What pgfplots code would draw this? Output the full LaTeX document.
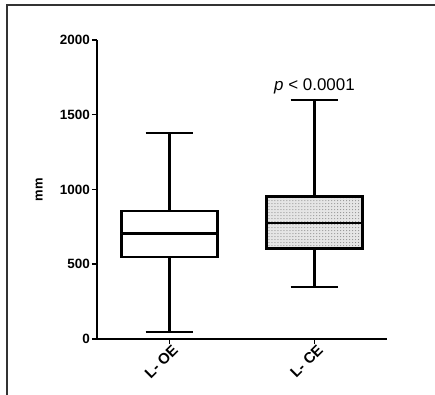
\documentclass[border=0pt]{standalone}
\usepackage{pgfplots}
\pgfplotsset{compat=1.18}
\usepgfplotslibrary{statistics}
\usetikzlibrary{patterns}
\usepackage{fontspec}
\setmainfont{Liberation Sans}
\begin{document}
\begin{tikzpicture}
\useasboundingbox (0bp,0bp) rectangle (435bp,395bp);
\fill[white] (0bp,0bp) rectangle (435bp,395bp);
\draw[line width=1.6bp, black!80] (7bp,0bp) -- (7bp,390bp) -- (435bp,390bp);
\begin{axis}[
  at={(97bp,56bp)}, anchor=south west,
  scale only axis,
  width=290bp, height=299bp,
  xmin=-0.5, xmax=1.5,
  ymin=0, ymax=2000,
  axis x line*=bottom, axis y line*=left,
  axis line style={line width=1.5bp, -},
  xtick={0,1},
  xticklabels={L- OE, L- CE},
  ytick={0,500,1000,1500,2000},
  tick style={line width=1.5bp, black},
  tick align=outside,
  major tick length=5bp,
  x tick label style={rotate=45, anchor=north east, font=\fontsize{15}{17}\selectfont\bfseries, inner sep=1bp, xshift=3bp},
  y tick label style={font=\fontsize{13.5}{15}\selectfont\bfseries, inner sep=2bp},
  /pgf/number format/assume math mode=true,
  /pgf/number format/set thousands separator={},
  ylabel={mm},
  ylabel style={font=\fontsize{13}{15}\selectfont\bfseries, at={(axis description cs:-0.175,0.5)}},
  clip=false,
  boxplot/draw direction=y,
  boxplot/box extend=0.66,
  boxplot/draw/lower whisker/.code={
    \draw[line width=2.4bp] (boxplot box cs:\pgfplotsboxplotvalue{lower quartile},0.5)
      -- (boxplot box cs:\pgfplotsboxplotvalue{lower whisker},0.5);
    \draw[line width=2.4bp] (boxplot box cs:\pgfplotsboxplotvalue{lower whisker},0.25)
      -- (boxplot box cs:\pgfplotsboxplotvalue{lower whisker},0.75);
  },
  boxplot/draw/upper whisker/.code={
    \draw[line width=2.4bp] (boxplot box cs:\pgfplotsboxplotvalue{upper quartile},0.5)
      -- (boxplot box cs:\pgfplotsboxplotvalue{upper whisker},0.5);
    \draw[line width=2.4bp] (boxplot box cs:\pgfplotsboxplotvalue{upper whisker},0.25)
      -- (boxplot box cs:\pgfplotsboxplotvalue{upper whisker},0.75);
  },
]
\addplot+[boxplot prepared={draw position=0, lower whisker=45, lower quartile=550, median=707, upper quartile=856, upper whisker=1376},
  draw=black, line width=2.4bp, fill=white, mark=none, solid] coordinates {};
\addplot+[boxplot prepared={draw position=1, lower whisker=346, lower quartile=604, median=774, upper quartile=952, upper whisker=1599,
    every box/.style={draw=black, line width=2.6bp, fill=black!10, postaction={pattern=dots, pattern color=black!55}}},
  draw=black, line width=2.4bp, fill=black!10, mark=none, solid] coordinates {};
\node[font=\fontsize{17}{19}\selectfont, anchor=base] at (axis cs:1,1665) {\textit{p} < 0.0001};
\end{axis}
\end{tikzpicture}
\end{document}
